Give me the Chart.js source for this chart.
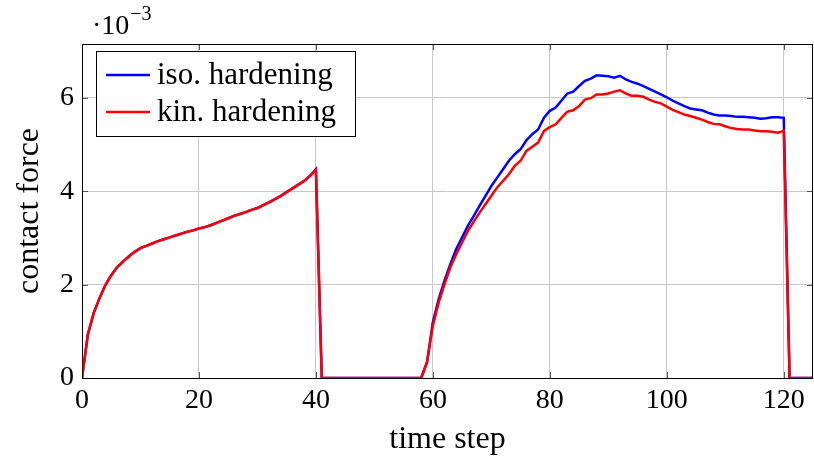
<!DOCTYPE html>
<html>
<head>
<meta charset="utf-8">
<script src="https://cdn.jsdelivr.net/npm/chart.js@4"></script>
<style>
  body { margin: 0; background: #fff; }
  #wrap { width: 814px; height: 461px; }
</style>
</head>
<body>
<div id="wrap"><canvas id="myChart"></canvas></div>
<script>
// contact force in units of 1e-3, one value per time step 0..125
let steps = [];
for (let i = 0; i <= 125; i++) steps.push(i);

let isoHard = [
  0, 0.93, 1.39, 1.71, 1.99, 2.20, 2.37, 2.49, 2.60, 2.70,
  2.78, 2.83, 2.88, 2.93, 2.97, 3.01, 3.05, 3.09, 3.13, 3.16,
  3.20, 3.23, 3.27, 3.32, 3.37, 3.42, 3.47, 3.51, 3.55, 3.60,
  3.64, 3.70, 3.76, 3.83, 3.90, 3.98, 4.06, 4.14, 4.22, 4.33,
  4.47, 0, 0, 0, 0, 0, 0, 0, 0, 0,
  0, 0, 0, 0, 0, 0, 0, 0, 0, 0.34,
  1.20, 1.69, 2.09, 2.44, 2.76, 3.01, 3.26, 3.47, 3.69, 3.90,
  4.11, 4.29, 4.47, 4.65, 4.79, 4.90, 5.09, 5.22, 5.32, 5.57,
  5.72, 5.79, 5.94, 6.09, 6.13, 6.25, 6.36, 6.41, 6.48, 6.47,
  6.46, 6.43, 6.47, 6.39, 6.34, 6.30, 6.25, 6.19, 6.13, 6.07,
  6.01, 5.94, 5.88, 5.82, 5.77, 5.75, 5.73, 5.68, 5.64, 5.62,
  5.62, 5.61, 5.59, 5.59, 5.58, 5.57, 5.55, 5.56, 5.58, 5.58,
  5.57, 0, 0, 0, 0, 0
];

let kinHard = [
  0, 0.93, 1.39, 1.71, 1.99, 2.20, 2.37, 2.49, 2.60, 2.70,
  2.78, 2.83, 2.88, 2.93, 2.97, 3.01, 3.05, 3.09, 3.13, 3.16,
  3.20, 3.23, 3.27, 3.32, 3.37, 3.42, 3.47, 3.51, 3.55, 3.60,
  3.64, 3.70, 3.76, 3.83, 3.90, 3.98, 4.06, 4.14, 4.22, 4.32,
  4.45, 0, 0, 0, 0, 0, 0, 0, 0, 0,
  0, 0, 0, 0, 0, 0, 0, 0, 0, 0.34,
  1.12, 1.62, 2.01, 2.37, 2.65, 2.90, 3.15, 3.35, 3.54, 3.72,
  3.90, 4.08, 4.22, 4.36, 4.54, 4.65, 4.86, 4.95, 5.04, 5.29,
  5.37, 5.43, 5.57, 5.70, 5.73, 5.82, 5.96, 5.99, 6.07, 6.07,
  6.09, 6.13, 6.16, 6.09, 6.04, 6.04, 6.02, 5.96, 5.91, 5.88,
  5.81, 5.74, 5.69, 5.64, 5.61, 5.57, 5.53, 5.48, 5.44, 5.43,
  5.39, 5.35, 5.33, 5.32, 5.32, 5.30, 5.28, 5.28, 5.27, 5.25,
  5.29, 0, 0, 0, 0, 0
];

let seriesNames = ['iso. hardening', 'kin. hardening'];
let seriesColors = ['#0000ff', '#ff0000'];
let xTicks = [0, 20, 40, 60, 80, 100, 120];
let yTicks = [0, 2, 4, 6];

const serif = "'Liberation Serif', 'DejaVu Serif', serif";

function toPoints(vals) {
  return vals.map((v, i) => ({ x: steps[i], y: v }));
}

// frame, inner tick marks, exponent label and boxed legend like pgfplots
const extras = {
  id: 'extras',
  afterDraw(chart) {
    const ctx = chart.ctx, a = chart.chartArea;
    const xs = chart.scales.x, ys = chart.scales.y;
    ctx.save();
    ctx.strokeStyle = '#555';
    ctx.lineWidth = 1;
    ctx.beginPath();
    xTicks.forEach(v => {
      const px = Math.round(xs.getPixelForValue(v)) + 0.5;
      ctx.moveTo(px, a.bottom); ctx.lineTo(px, a.bottom - 6);
      ctx.moveTo(px, a.top); ctx.lineTo(px, a.top + 6);
    });
    yTicks.forEach(v => {
      const py = Math.round(ys.getPixelForValue(v)) + 0.5;
      ctx.moveTo(a.left, py); ctx.lineTo(a.left + 6, py);
      ctx.moveTo(a.right, py); ctx.lineTo(a.right - 6, py);
    });
    ctx.stroke();

    ctx.strokeStyle = '#000';
    ctx.strokeRect(a.left + 0.5, a.top + 0.5, a.right - a.left - 1, a.bottom - a.top);

    // ·10^-3
    ctx.fillStyle = '#000';
    ctx.textBaseline = 'alphabetic';
    ctx.font = '28px ' + serif;
    ctx.fillText('\u00b710', 92, 34);
    let w = ctx.measureText('\u00b710').width;
    ctx.font = '20px ' + serif;
    ctx.fillText('\u22123', 92 + w + 1, 20);

    // legend
    ctx.fillStyle = '#fff';
    ctx.fillRect(96, 51, 259, 85);
    ctx.strokeStyle = '#000';
    ctx.strokeRect(96.5, 51.5, 259, 85);
    ctx.font = '31px ' + serif;
    ctx.textBaseline = 'middle';
    chart.data.datasets.forEach((ds, i) => {
      const y = 75 + i * 37;
      ctx.strokeStyle = ds.borderColor;
      ctx.lineWidth = 2.5;
      ctx.beginPath();
      ctx.moveTo(106, y);
      ctx.lineTo(150, y);
      ctx.stroke();
      ctx.fillStyle = '#000';
      ctx.fillText(ds.label, 157, y + 1);
    });
    ctx.restore();
  }
};

let chart = new Chart(document.getElementById('myChart').getContext('2d'), {
  type: 'line',
  data: {
    datasets: [
      { label: seriesNames[0], data: toPoints(isoHard), borderColor: seriesColors[0], borderWidth: 2.5, pointRadius: 0, tension: 0, order: 1 },
      { label: seriesNames[1], data: toPoints(kinHard), borderColor: seriesColors[1], borderWidth: 2.5, pointRadius: 0, tension: 0, order: 0 }
    ]
  },
  options: {
    responsive: true,
    maintainAspectRatio: false,
    animation: false,
    layout: { padding: { top: 44, right: 1, left: 0, bottom: 0 } },
    plugins: { legend: { display: false }, tooltip: { enabled: false } },
    scales: {
      x: {
        type: 'linear',
        min: 0, max: 125,
        afterBuildTicks: (s) => { s.ticks = xTicks.map(v => ({ value: v })); },
        afterFit: (s) => { s.height = 83; },
        grid: { color: '#c8c8c8', drawTicks: false },
        border: { display: false },
        ticks: { color: '#000', font: { family: serif, size: 28 }, padding: 6, maxRotation: 0 },
        title: { display: true, text: 'time step', color: '#000', font: { family: serif, size: 32 }, padding: { top: 0, bottom: 2 } }
      },
      y: {
        min: 0, max: 7.15,
        afterBuildTicks: (s) => { s.ticks = yTicks.map(v => ({ value: v })); },
        afterFit: (s) => { s.width = 82; },
        grid: { color: '#c8c8c8', drawTicks: false },
        border: { display: false },
        ticks: { color: '#000', font: { family: serif, size: 28 }, padding: 8 },
        title: { display: true, text: 'contact force', color: '#000', font: { family: serif, size: 32 }, padding: { top: 10, bottom: 4 } }
      }
    }
  },
  plugins: [extras]
});
</script>
</body>
</html>
